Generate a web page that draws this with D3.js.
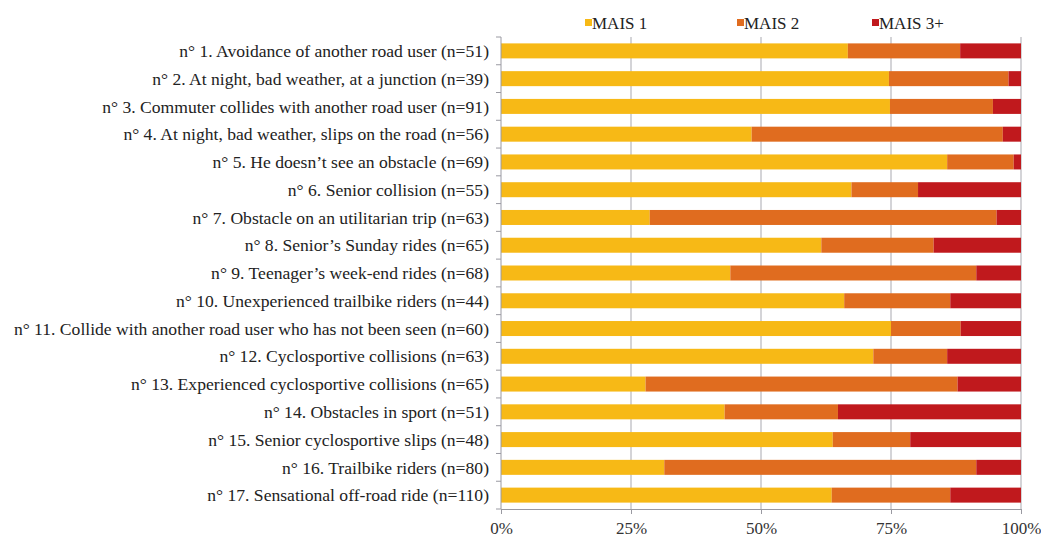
<!DOCTYPE html>
<html>
<head>
<meta charset="utf-8">
<script src="https://cdn.jsdelivr.net/npm/d3@7"></script>
<style>
  body { margin: 0; background: #ffffff; }
  svg text { font-family: "Liberation Serif", "Times New Roman", serif; fill: #222; }
</style>
</head>
<body>
<div id="chart"></div>
<script>

// categories (top to bottom)
var categories = [
  "n° 1. Avoidance of another road user (n=51)",
  "n° 2. At night, bad weather, at a junction (n=39)",
  "n° 3. Commuter collides with another road user (n=91)",
  "n° 4. At night, bad weather, slips on the road (n=56)",
  "n° 5. He doesn’t see an obstacle (n=69)",
  "n° 6. Senior collision (n=55)",
  "n° 7. Obstacle on an utilitarian trip (n=63)",
  "n° 8. Senior’s Sunday rides (n=65)",
  "n° 9. Teenager’s week-end rides (n=68)",
  "n° 10. Unexperienced trailbike riders (n=44)",
  "n° 11. Collide with another road user who has not been seen (n=60)",
  "n° 12. Cyclosportive collisions (n=63)",
  "n° 13. Experienced cyclosportive collisions (n=65)",
  "n° 14. Obstacles in sport (n=51)",
  "n° 15. Senior cyclosportive slips (n=48)",
  "n° 16. Trailbike riders (n=80)",
  "n° 17. Sensational off-road ride (n=110)"
]

// shares in percent
var mais1 = [66.7, 74.6, 74.8, 48.2, 85.8, 67.4, 28.6, 61.6, 44.1, 66.0, 75.0, 71.6, 27.8, 43.0, 63.8, 31.4, 63.6]
var mais2 = [21.6, 23.0, 19.8, 48.3, 12.8, 12.8, 66.7, 21.6, 47.3, 20.4, 13.4, 14.2, 60.0, 21.8, 14.9, 60.0, 22.8]
var mais3 = [11.7,  2.4,  5.4,  3.5,  1.4, 19.8,  4.7, 16.8,  8.6, 13.6, 11.6, 14.2, 12.2, 35.2, 21.3,  8.6, 13.6]

var seriesNames = ["MAIS 1", "MAIS 2", "MAIS 3+"]
var seriesColors = ["#f7b916", "#e06c1f", "#c0191d"]
var tickValues = [0, 25, 50, 75, 100]

var width = 1041
var height = 538

var svg = d3.select("#chart").append("svg")
  .attr("width", width)
  .attr("height", height)

var rows = categories.map(function(c, i){
  return { name: c, "MAIS 1": mais1[i], "MAIS 2": mais2[i], "MAIS 3+": mais3[i] }
})

var stack = d3.stack().keys(seriesNames)
var stacked = stack(rows)

var x = d3.scaleLinear().domain([0, 100]).range([501, 1021])
var y = d3.scaleBand().domain(categories).range([37, 509]).paddingInner(0.46).paddingOuter(0.23)

// gridlines
svg.append("g")
  .selectAll("line")
  .data(tickValues.slice(1))
  .enter()
  .append("line")
  .attr("x1", function(d){ return x(d) })
  .attr("x2", function(d){ return x(d) })
  .attr("y1", 37)
  .attr("y2", 509)
  .style("stroke", "#a9a9b0")
  .style("stroke-width", 1)

// bars
svg.append("g")
  .selectAll("g")
  .data(stacked)
  .enter()
  .append("g")
  .attr("fill", function(d, i){ return seriesColors[i] })
  .selectAll("rect")
  .data(function(d){ return d })
  .enter()
  .append("rect")
  .attr("x", function(d){ return x(d[0]) })
  .attr("width", function(d){ return x(d[1]) - x(d[0]) })
  .attr("y", function(d){ return y(d.data.name) })
  .attr("height", y.bandwidth())

// left axis: lines at band boundaries
var yAxisG = svg.append("g")
yAxisG.append("line")
  .attr("x1", 501).attr("x2", 501)
  .attr("y1", 37).attr("y2", 509)
  .style("stroke", "#9a9aa2")
var step = (509 - 37) / categories.length
yAxisG.selectAll(".tk")
  .data(d3.range(categories.length + 1))
  .enter()
  .append("line")
  .attr("x1", 496).attr("x2", 501)
  .attr("y1", function(d){ return 37 + d * step })
  .attr("y2", function(d){ return 37 + d * step })
  .style("stroke", "#9a9aa2")

yAxisG.selectAll("text")
  .data(categories)
  .enter()
  .append("text")
  .attr("x", 489)
  .attr("y", function(d){ return y(d) + y.bandwidth() / 2 })
  .attr("dy", "0.35em")
  .attr("text-anchor", "end")
  .style("font-size", "17.6px")
  .text(function(d){ return d })

// bottom axis
var xAxis = d3.axisBottom(x).tickValues(tickValues).tickSize(5).tickFormat(function(d){ return d + "%" })
var xg = svg.append("g").attr("transform", "translate(0,509)").call(xAxis)
xg.select(".domain").style("stroke", "#9a9aa2")
xg.selectAll(".tick line").style("stroke", "#9a9aa2")
xg.selectAll(".tick text")
  .attr("y", 13)
  .style("font-size", "17px")
  .style("font-family", "Liberation Serif, serif")
  .style("fill", "#333")

// legend
var legendX = [585, 737, 872]
var legend = svg.append("g")
  .selectAll("g")
  .data(seriesNames)
  .enter()
  .append("g")
  .attr("transform", function(d, i){ return "translate(" + legendX[i] + ",23)" })
legend.append("rect")
  .attr("x", 0).attr("y", -4)
  .attr("width", 7).attr("height", 7)
  .attr("fill", function(d, i){ return seriesColors[i] })
legend.append("text")
  .attr("x", 7)
  .attr("dy", "0.35em")
  .style("font-size", "17px")
  .text(function(d){ return d })

</script>
</body>
</html>
